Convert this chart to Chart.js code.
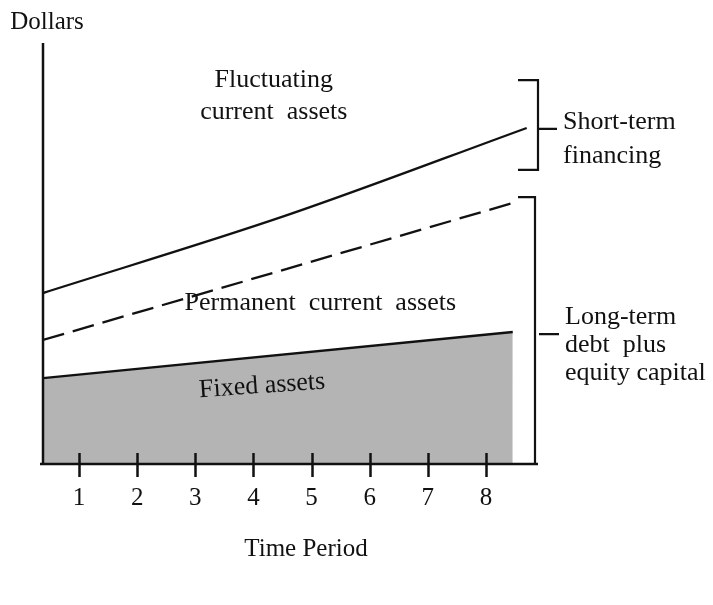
<!DOCTYPE html>
<html>
<head>
<meta charset="utf-8">
<script src="https://cdn.jsdelivr.net/npm/chart.js@4.4.0/dist/chart.umd.min.js"></script>
<style>
  html, body { margin: 0; padding: 0; background: #fff; }
  canvas { display: block; }
</style>
</head>
<body>
<canvas id="assetChart" width="713" height="605"></canvas>
<script>
// time periods shown on the x axis
const periods = [1, 2, 3, 4, 5, 6, 7, 8];

// (x = time period, y = dollars on a 0-100 scale)
const fluctuatingTop = [{ x: 0.38, y: 40.8 }, { x: 4.54, y: 59.2 }, { x: 8.70, y: 80.2 }];
const permanentTop = [{ x: 0.38, y: 29.6 }, { x: 8.46, y: 62.3 }];
const fixedTop = [{ x: 0.38, y: 20.5 }, { x: 8.46, y: 31.5 }];

const SERIF = "'Liberation Serif', 'DejaVu Serif', serif";
const INK = '#111';

const drawExtras = {
    id: 'drawExtras',
    afterDraw(chart) {
        const ctx = chart.ctx;
        const xs = chart.scales.x;
        const ys = chart.scales.y;
        const X = v => xs.getPixelForValue(v);
        const Y = v => ys.getPixelForValue(v);

        ctx.save();
        ctx.strokeStyle = INK;
        ctx.fillStyle = INK;
        ctx.lineWidth = 2.5;
        ctx.lineCap = 'butt';

        // axes
        ctx.beginPath();
        ctx.moveTo(xs.left, ys.top - 2);
        ctx.lineTo(xs.left, ys.bottom + 1);
        ctx.moveTo(xs.left - 3, ys.bottom);
        ctx.lineTo(xs.right + 1, ys.bottom);
        ctx.stroke();

        // ticks crossing the x axis
        ctx.beginPath();
        periods.forEach(p => {
            const px = Math.round(X(p)) + 0.5;
            ctx.moveTo(px, ys.bottom - 11);
            ctx.lineTo(px, ys.bottom + 13);
        });
        ctx.stroke();

        // tick labels
        ctx.font = '25px ' + SERIF;
        ctx.textAlign = 'center';
        ctx.textBaseline = 'middle';
        periods.forEach(p => ctx.fillText(String(p), X(p), ys.bottom + 34));

        // axis titles
        ctx.fillText('Dollars', xs.left + 4, ys.top - 23);
        ctx.fillText('Time Period', xs.left + 263, ys.bottom + 85);

        // area labels
        ctx.font = '26px ' + SERIF;
        ctx.fillText('Fluctuating', X(4.35), Y(91.6));
        ctx.fillText('current  assets', X(4.35), Y(84.0));
        ctx.fillText('Permanent  current  assets', X(5.15), Y(38.3));

        ctx.save();
        ctx.translate(X(4.15), Y(18.6));
        ctx.rotate(-4 * Math.PI / 180);
        ctx.fillText('Fixed assets', 0, 0);
        ctx.restore();

        // brackets on the right
        const bx1 = xs.right + 1;
        const bx2 = xs.right - 2;
        ctx.lineWidth = 2.2;
        ctx.beginPath();
        // short-term bracket
        ctx.moveTo(bx1 - 20, Y(91.6));
        ctx.lineTo(bx1, Y(91.6));
        ctx.lineTo(bx1, Y(70.2));
        ctx.lineTo(bx1 - 20, Y(70.2));
        ctx.moveTo(bx1, Y(80.0));
        ctx.lineTo(bx1 + 19, Y(80.0));
        // long-term bracket
        ctx.moveTo(bx2 - 17, Y(63.7));
        ctx.lineTo(bx2, Y(63.7));
        ctx.lineTo(bx2, ys.bottom);
        ctx.moveTo(bx2 + 4, Y(31.0));
        ctx.lineTo(bx2 + 24, Y(31.0));
        ctx.stroke();

        ctx.textAlign = 'left';
        ctx.fillText('Short-term', bx1 + 25, Y(81.5));
        ctx.fillText('financing', bx1 + 25, Y(73.5));
        ctx.fillText('Long-term', bx2 + 30, Y(35.1));
        ctx.fillText('debt  plus', bx2 + 30, Y(28.4));
        ctx.fillText('equity capital', bx2 + 30, Y(21.7));

        ctx.restore();
    }
};

const ctx = document.getElementById('assetChart').getContext('2d');
new Chart(ctx, {
    type: 'scatter',
    data: {
        datasets: [
            {
                label: 'Fixed assets',
                data: fixedTop,
                showLine: true,
                borderColor: INK,
                borderWidth: 2.3,
                backgroundColor: '#b4b4b4',
                fill: 'origin',
                pointRadius: 0,
                tension: 0
            },
            {
                label: 'Permanent current assets',
                data: permanentTop,
                showLine: true,
                borderColor: INK,
                borderWidth: 2.3,
                borderDash: [22, 9],
                fill: false,
                pointRadius: 0
            },
            {
                label: 'Fluctuating current assets',
                data: fluctuatingTop,
                showLine: true,
                borderColor: INK,
                borderWidth: 2.3,
                fill: false,
                pointRadius: 0,
                cubicInterpolationMode: 'monotone'
            }
        ]
    },
    options: {
        responsive: false,
        animation: false,
        layout: { padding: { left: 43, right: 176, top: 45, bottom: 141 } },
        plugins: {
            legend: { display: false },
            tooltip: { enabled: false }
        },
        scales: {
            x: { type: 'linear', min: 0.381, max: 8.877, display: false },
            y: { type: 'linear', min: 0, max: 100, display: false }
        }
    },
    plugins: [drawExtras]
});
</script>
</body>
</html>
